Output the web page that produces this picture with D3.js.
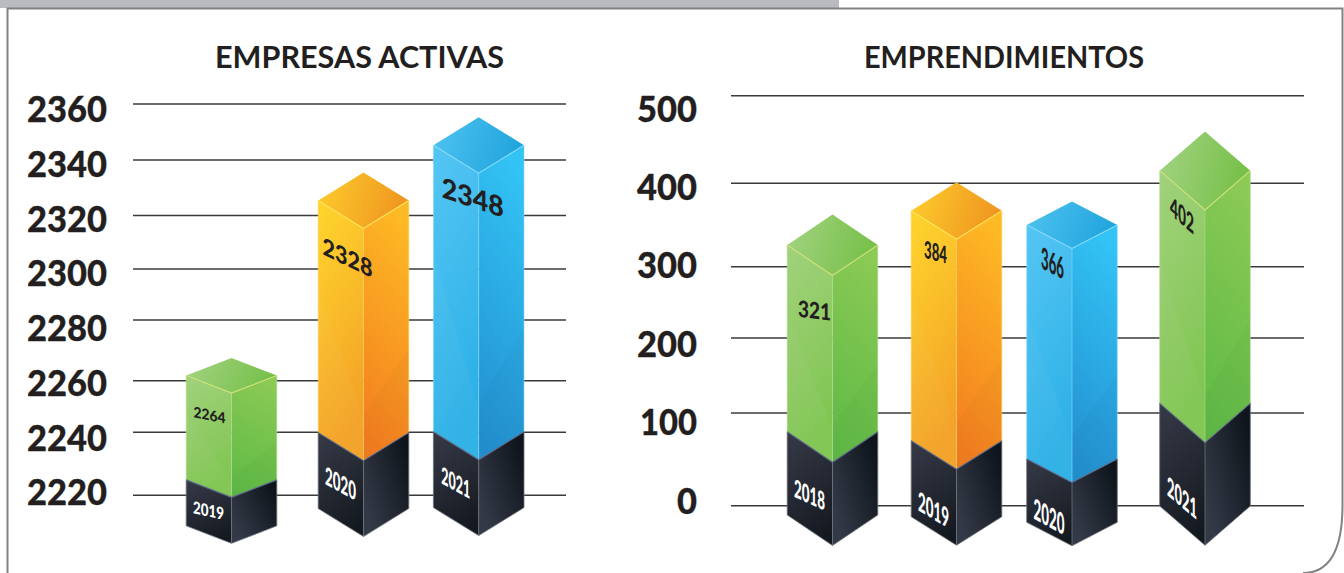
<!DOCTYPE html>
<html lang="es">
<head>
<meta charset="utf-8">
<script src="https://cdn.jsdelivr.net/npm/d3@7/dist/d3.min.js"></script>
<style>
html,body{margin:0;padding:0;background:#fff;overflow:hidden}
svg{display:block}
text{font-family:Lato,"Open Sans",sans-serif;font-weight:700;fill:#231f20}
</style>
</head>
<body>
<svg id="chart" width="1344" height="573"></svg>
<script>
// ---- Data: left panel ----
const leftTitle = "EMPRESAS ACTIVAS";
const leftTicks = [2220, 2240, 2260, 2280, 2300, 2320, 2340, 2360];
const leftYears = ["2019", "2020", "2021"];
const leftLabels = ["2264", "2328", "2348"];
// bar extents as they read against the printed gridlines
const leftBarTop = [2261.7, 2325.4, 2345.3];
const leftBaseTop = [2224.9, 2239.9, 2240.2];
const leftBaseBottom = [2210.3, 2215.8, 2216.1];
const leftHues = ["green", "orange", "blue"];

// ---- Data: right panel ----
const rightTitle = "EMPRENDIMIENTOS";
const rightTicks = [0, 100, 200, 300, 400, 500];
const rightYears = ["2018", "2019", "2020", "2021"];
const rightLabels = ["321", "384", "366", "402"];
const rightBarTop = [326, 367.1, 350, 414.4];
const rightBaseTop = [79.8, 70.1, 50.4, 112.9];
const rightBaseBottom = [-10, -11.9, -17.9, -0.3];
const rightHues = ["green", "orange", "blue", "green"];

// ---- Layout (not data) ----
const leftLayout = {
  gridRange: [495.3, 432.3, 380.7, 320, 269, 215.5, 160, 104],
  tickRange: [491.7, 108.7],
  gridX: [133, 566], tickX: 107, tickSize: 36.5, tickLen: 80,
  titleX: 359.5, titleY: 68, titleLen: 289,
  centers: [231.5, 363.5, 478.7],
  depths: [17.5, 28, 28],
  valueDx: [-22, -16, -6], valueDy: [30.5, 39, 28], valueSlope: [0.2, 0.48, 0.33], valueW: [32, 50, 62], valueSize: [15, 24, 28],
  yearDy: [22, 37, 37], yearSlope: [0.22, 0.55, 0.55], yearW: [31, 31, 29], yearSize: [17, 25, 24]
};
const rightLayout = {
  gridRange: [505.7, 413, 338, 266.7, 183.3, 95.7],
  tickRange: [500, 108],
  gridX: [731, 1304], tickX: 697, tickSize: 36.5, tickLen: 60,
  titleX: 1004, titleY: 68, titleLen: 280,
  centers: [832.5, 956.5, 1072, 1205],
  depths: [30.5, 28.5, 23.5, 39.3],
  valueDx: [-18, -21, -19.5, -23], valueDy: [47, 26, 24.6, 25], valueSlope: [0.12, 0.25, 0.5, 0.85], valueW: [33, 23, 23, 24], valueSize: [23, 24, 30, 27],
  yearDy: [48, 55, 46, 75], yearSlope: [0.45, 0.6, 0.55, 0.85], yearW: [31, 31, 31, 30], yearSize: [25, 27, 29, 27]
};
const halfWidth = 45.3;

const palette = {
  green: {l: ["#a2d27c", "#7fc551"], r: ["#8bca55", "#5fba46"], t: ["#a0d27e", "#74bf46"], e: "#cfe07a", s: "#b4dc96"},
  orange: {l: ["#ffd62d", "#f3a126"], r: ["#feba24", "#f37d20"], t: ["#fdc92c", "#ee931f"], e: "#ffe15a", s: "#ffd25a"},
  blue: {l: ["#55c6f4", "#2cb0e6"], r: ["#33c4f5", "#2390d0"], t: ["#4cc1ef", "#1ea3dc"], e: "#86daf9", s: "#8adcf8"}
};

const svg = d3.select("#chart");
const defs = svg.append("defs");
let gid = 0;
function grad(c0, c1, x1, y1, x2, y2) {
  const id = "g" + (gid++);
  const g = defs.append("linearGradient").attr("id", id)
    .attr("x1", x1).attr("y1", y1).attr("x2", x2).attr("y2", y2);
  g.append("stop").attr("offset", 0).attr("stop-color", c0);
  g.append("stop").attr("offset", 1).attr("stop-color", c1);
  return "url(#" + id + ")";
}
const poly = d => "M" + d.map(p => p.join(",")).join("L") + "Z";

// frame
svg.append("rect").attr("x", 0).attr("y", 0).attr("width", 839).attr("height", 8).attr("fill", "#b9bbbe");
svg.append("path")
  .attr("d", "M7.5,573V8.5H1342.5V505Q1342.5,573,1303,573")
  .attr("fill", "none").attr("stroke", "#808285").attr("stroke-width", 2);

function panel(title, ticks, years, labels, barTop, baseTop, baseBottom, hues, L) {
  const y = d3.scaleLinear().domain(ticks).range(L.gridRange);
  const tickY = d3.scaleLinear().domain(d3.extent(ticks)).range(L.tickRange);
  const x = d3.scaleOrdinal().domain(years).range(L.centers);
  const g = svg.append("g");

  g.append("text").attr("x", L.titleX).attr("y", L.titleY).attr("text-anchor", "middle")
    .attr("font-size", 29.5).attr("textLength", L.titleLen).attr("lengthAdjust", "spacingAndGlyphs")
    .text(title);

  g.append("g").selectAll("line").data(ticks).join("line")
    .attr("x1", L.gridX[0]).attr("x2", L.gridX[1])
    .attr("y1", d => y(d)).attr("y2", d => y(d))
    .attr("stroke", "#3a3a3c").attr("stroke-width", 1.6);

  const axis = g.append("g").attr("transform", `translate(${L.tickX},0)`)
    .call(d3.axisLeft(tickY).tickValues(ticks).tickFormat(d3.format("d")).tickSize(0).tickPadding(0));
  axis.select(".domain").remove();
  axis.selectAll("text").style("font-family", "Lato,sans-serif").style("font-weight", 900)
    .attr("font-size", L.tickSize).attr("fill", "#231f20").attr("dy", "0.36em")
    .attr("stroke", "#231f20").attr("stroke-width", 0.3)
    .each(function (d) {
      const n = String(d).length;
      d3.select(this).attr("textLength", L.tickLen * n / String(ticks[ticks.length - 1]).length - (d === 100 ? 3 : 0))
        .attr("lengthAdjust", "spacingAndGlyphs");
    });

  years.forEach((yr, i) => {
    const cx = x(yr), d = L.depths[i], c = palette[hues[i]];
    const l = cx - halfWidth, r = cx + halfWidth;
    const yt = y(barTop[i]), yb = y(baseTop[i]), ybb = y(baseBottom[i]);
    const bar = g.append("g");

    // coloured faces
    bar.append("path").attr("d", poly([[l, yt], [cx, yt + d], [cx, yb + d], [l, yb]]))
      .attr("fill", grad(c.l[0], c.l[1], 0, 0, 0.25, 1));
    bar.append("path").attr("d", poly([[cx, yt + d], [r, yt], [r, yb], [cx, yb + d]]))
      .attr("fill", grad(c.r[0], c.r[1], 0.6, 0, 0.4, 1));
    // faint facets
    const h = yb - yt;
    bar.append("path").attr("d", poly([[l, yb - h * 0.62], [cx, yb + d - h * 0.18], [cx, yb + d], [l, yb]]))
      .attr("fill", "#fff").attr("opacity", 0.035);
    bar.append("path").attr("d", poly([[cx, yb + d - h * 0.2], [r, yb - h * 0.36], [r, yb], [cx, yb + d]]))
      .attr("fill", "#000").attr("opacity", 0.02);
    // top
    bar.append("path").attr("d", poly([[l, yt], [cx, yt - d], [r, yt], [cx, yt + d]]))
      .attr("fill", grad(c.t[0], c.t[1], 0, 0.4, 1, 0.6));
    bar.append("path").attr("d", `M${l},${yt}L${cx},${yt + d}L${r},${yt}`)
      .attr("fill", "none").attr("stroke", c.e).attr("stroke-width", 1.1);
    bar.append("path").attr("d", `M${l},${yt}V${yb}M${r},${yt}V${yb}M${cx},${yt + d}V${yb + d}`)
      .attr("fill", "none").attr("stroke", c.s).attr("stroke-width", 0.8).attr("opacity", 0.75);

    // dark base
    bar.append("path").attr("d", poly([[l, yb], [cx, yb + d], [cx, ybb + d], [l, ybb]]))
      .attr("fill", grad("#343845", "#141920", 0.3, 0, 0.6, 1));
    bar.append("path").attr("d", poly([[cx, yb + d], [r, yb], [r, ybb], [cx, ybb + d]]))
      .attr("fill", grad("#343947", "#0f151c", 0.1, 0.8, 0.95, 0.2));
    bar.append("path").attr("d", `M${l},${yb}L${cx},${yb + d}L${r},${yb}`)
      .attr("fill", "none").attr("stroke", "#5d6b8a").attr("stroke-width", 1.1);
    bar.append("path").attr("d", `M${l},${yb}V${ybb}L${cx},${ybb + d}L${r},${ybb}V${yb}M${cx},${yb + d}V${ybb + d}`)
      .attr("fill", "none").attr("stroke", "#6d7179").attr("stroke-width", 0.8);

    // skewed labels on the left face
    const put = (text, dx, edge, dy, slope, w, size, fill) => {
      const lx = cx + dx, frac = (lx - l) / halfWidth;
      bar.append("text")
        .attr("transform", `translate(${lx},${edge + d * frac + dy}) skewY(${Math.atan(slope) * 180 / Math.PI})`)
        .attr("text-anchor", "middle").attr("dy", "0.36em")
        .attr("font-size", size).attr("textLength", w).attr("lengthAdjust", "spacingAndGlyphs")
        .style("fill", fill).style("font-weight", 900).text(text);
    };
    put(labels[i], L.valueDx[i], yt, L.valueDy[i], L.valueSlope[i], L.valueW[i], L.valueSize[i], "#231f20");
    put(yr, -23, yb, L.yearDy[i], L.yearSlope[i], L.yearW[i], L.yearSize[i], "#ffffff");
  });
}

panel(leftTitle, leftTicks, leftYears, leftLabels, leftBarTop, leftBaseTop, leftBaseBottom, leftHues, leftLayout);
panel(rightTitle, rightTicks, rightYears, rightLabels, rightBarTop, rightBaseTop, rightBaseBottom, rightHues, rightLayout);
</script>
</body>
</html>
